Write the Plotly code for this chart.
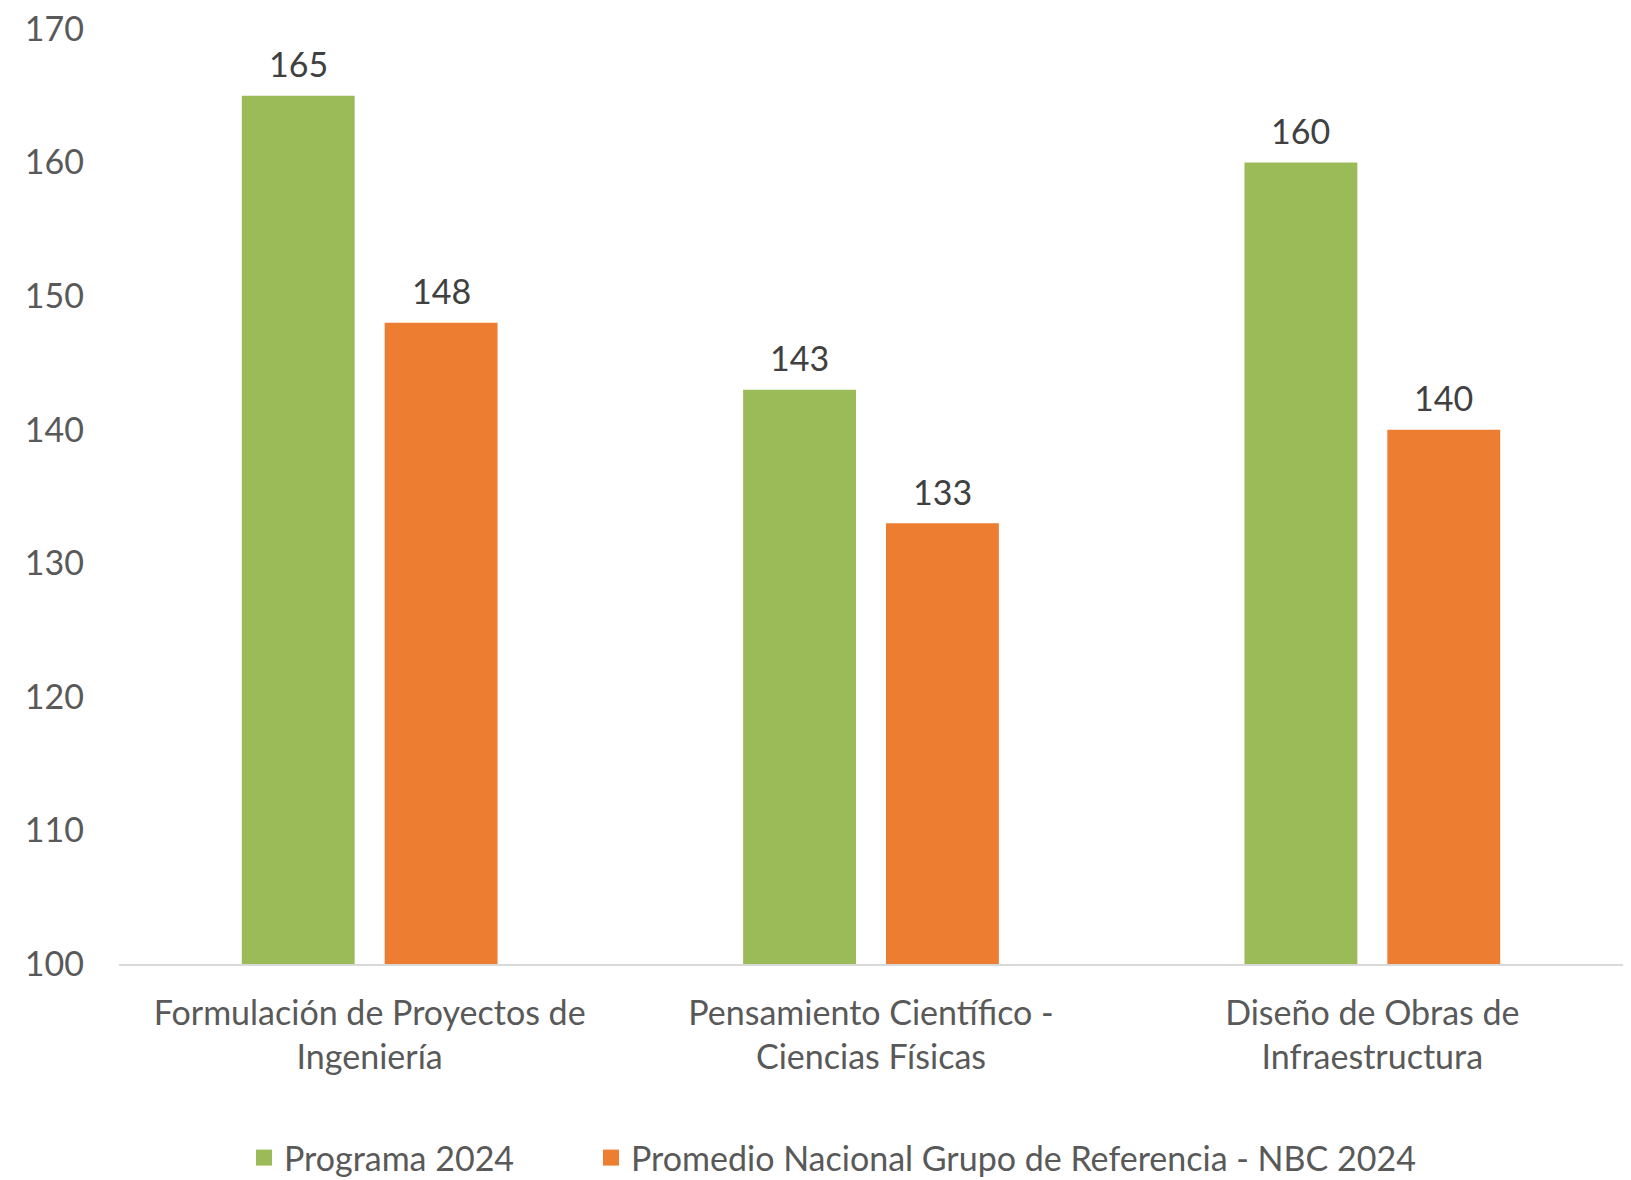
import plotly.graph_objects as go

categories = ["Formulación de Proyectos de<br>Ingeniería",
              "Pensamiento Científico -<br>Ciencias Físicas",
              "Diseño de Obras de<br>Infraestructura"]
programa = [165, 143, 160]
promedio = [148, 133, 140]
series_names = ["Programa 2024", "Promedio Nacional Grupo de Referencia - NBC 2024"]
colors = ["#9BBB59", "#ED7D31"]
y_ticks = [100, 110, 120, 130, 140, 150, 160, 170]

FONT = "Lato"
FS = 34
W, H = 1623, 1172
ML, MR, MT, MB = 111, 8, 21, 216
BARGAP = 0.43
fig = go.Figure()
for vals, name, col, lg in ((programa, series_names[0], colors[0], "legend"),
                            (promedio, series_names[1], colors[1], "legend2")):
    fig.add_trace(go.Bar(x=categories, y=vals, name=name, showlegend=False,
                         marker=dict(color=col, line=dict(width=0))))
    # legend entry (larger square symbol)
    fig.add_trace(go.Scatter(x=[None], y=[None], mode="markers", name=name,
                             marker=dict(symbol="square", size=20, color=col),
                             showlegend=True, legend=lg))

# data labels above bars
cat_px = (W - ML - MR) / len(categories)
off = cat_px * (1 - BARGAP) / 4
for vals, sh in ((programa, -off), (promedio, off)):
    for c, v in zip(categories, vals):
        fig.add_annotation(x=c, y=v, xref="x", yref="y", text=str(v),
                           showarrow=False, xshift=sh, yshift=32,
                           yanchor="middle",
                           font=dict(family=FONT, size=FS, color="#404040"))

leg_common = dict(orientation="h", xref="container", yref="container",
                  y=1 - 1150 / H, xanchor="left", yanchor="middle",
                  font=dict(family=FONT, size=FS, color="#595959"),
                  itemwidth=30, bgcolor="rgba(0,0,0,0)")
fig.update_layout(
    width=W, height=H,
    margin=dict(l=ML, r=MR, t=MT, b=MB, autoexpand=False),
    plot_bgcolor="white", paper_bgcolor="white",
    barmode="group", bargap=BARGAP, bargroupgap=0.21,
    font=dict(family=FONT, size=FS, color="#595959"),
    showlegend=True,
    legend=dict(x=236 / W, **leg_common),
    legend2=dict(x=583 / W, **leg_common),
    xaxis=dict(showline=True, linecolor="#D9D9D9", linewidth=2,
               showgrid=False, ticks="", ticklabelstandoff=18,
               automargin=False,
               tickfont=dict(family=FONT, size=FS, color="#595959")),
    yaxis=dict(range=[100, 170], tickvals=y_ticks, showgrid=False,
               zeroline=False, showline=False, ticks="",
               ticklabelstandoff=34, ticklabeloverflow="allow",
               automargin=False,
               tickfont=dict(family=FONT, size=FS, color="#595959")),
)

fig.write_html("out.html")
